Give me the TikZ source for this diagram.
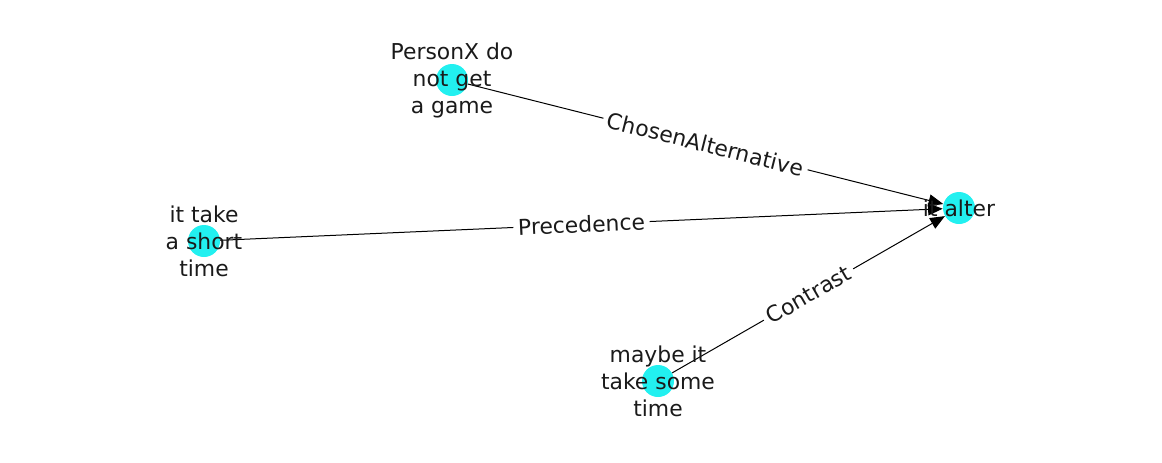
\documentclass[tikz,border=0pt]{standalone}
\usepackage{fontspec}
\setmainfont{DejaVu Sans}
\usetikzlibrary{arrows.meta}
\definecolor{nodecyan}{RGB}{34,240,240}
\definecolor{txt}{RGB}{26,26,26}
\begin{document}
\begin{tikzpicture}[x=0.75pt,y=-0.75pt,
  dot/.style={circle,fill=nodecyan,draw=none,minimum size=24pt,inner sep=0pt},
  lbl/.style={align=center,font=\fontsize{16.4}{20}\selectfont,text=txt},
  edge/.style={draw=black,line width=0.75pt,-{Triangle[length=11pt,width=9pt]}},
  elbl/.style={midway,sloped,fill=white,rounded corners=3pt,inner sep=3.5pt,text=txt,font=\fontsize{16.4}{20}\selectfont}]
\useasboundingbox (0,0) rectangle (1162,462);
\node[dot] (p) at (452,80) {};
\node[dot] (s) at (204,241) {};
\node[dot] (m) at (658,381) {};
\node[dot] (a) at (959,208) {};
\draw[edge] (p) -- node[elbl] {ChosenAlternative} (a);
\draw[edge] (s) -- node[elbl] {Precedence} (a);
\draw[edge] (m) -- node[elbl] {Contrast} (a);
\node[lbl] (pl) at (452,80.5) {PersonX do\\not get\\a game};
\node[lbl] (sl) at (204,241.5) {it take\\a short\\time};
\node[lbl] (ml) at (658,381.5) {maybe it\\take some\\time};
\node[lbl] (al) at (959,208) {it alter};
\end{tikzpicture}
\end{document}
